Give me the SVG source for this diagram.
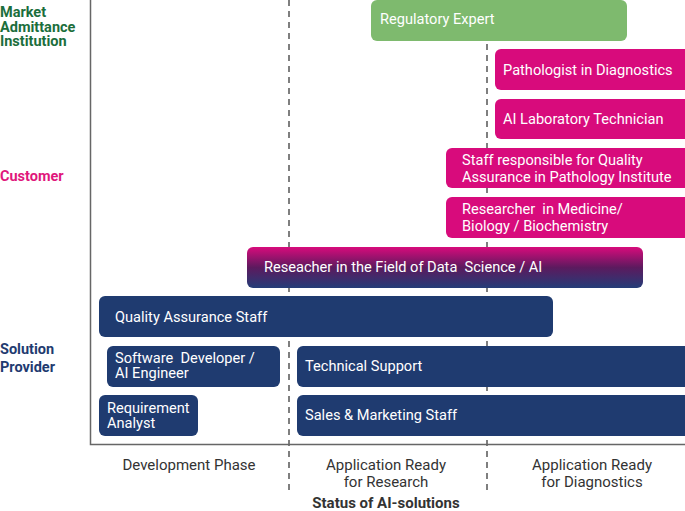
<svg xmlns="http://www.w3.org/2000/svg" width="685" height="511" viewBox="0 0 685 511">
<defs>
<linearGradient id="grad" x1="0" y1="0" x2="0" y2="1">
<stop offset="0" stop-color="#d80b7c"/>
<stop offset="0.5" stop-color="#5c1a5e"/>
<stop offset="1" stop-color="#243d78"/>
</linearGradient>
<style>
.t{font-family:Roboto,"Liberation Sans",sans-serif;font-size:14.6px;fill:#fff}
.g{fill:#7eba6e}
.p{fill:#d80b7c}
.n{fill:#1f3b70}
.lab{font-family:Roboto,"Liberation Sans",sans-serif;font-size:14.5px;font-weight:bold}
.ax{font-family:Roboto,"Liberation Sans",sans-serif;font-size:15px;fill:#333;text-anchor:middle}
.dash{stroke:#555;stroke-width:1.5;stroke-dasharray:6 5;fill:none}
</style>
</defs>
<rect width="685" height="511" fill="#fff"/>
<g id="axes">
<line class="dash" x1="289" y1="0" x2="289" y2="492"/>
<line class="dash" x1="487" y1="0" x2="487" y2="492"/>
<polyline points="90.5,0 90.5,444.5 685,444.5" fill="none" stroke="#666" stroke-width="1.5"/>
</g>
<g id="lab-market" class="lab" fill="#1b6e3c">
<text x="0" y="17">Market</text>
<text x="0" y="31.5">Admittance</text>
<text x="0" y="46">Institution</text>
</g>
<g id="lab-customer" class="lab" fill="#e0177c"><text x="0" y="181">Customer</text></g>
<g id="lab-solution" class="lab" fill="#1f3b70">
<text x="0" y="354">Solution</text>
<text x="0" y="372">Provider</text>
</g>
<g id="regulatory"><rect class="g" x="371" y="0" width="256" height="41" rx="6"/><text class="t" x="380" y="24">Regulatory Expert</text></g>
<g id="pathologist"><rect class="p" x="495" y="49" width="195" height="41" rx="6"/><text class="t" x="503" y="75">Pathologist in Diagnostics</text></g>
<g id="ailab"><rect class="p" x="495" y="99" width="195" height="40" rx="6"/><text class="t" x="503" y="124">AI Laboratory Technician</text></g>
<g id="staffqa"><rect class="p" x="446" y="148" width="244" height="40" rx="6"/><text class="t" x="462" y="165">Staff responsible for Quality</text><text class="t" x="462" y="182">Assurance in Pathology Institute</text></g>
<g id="researcher-med"><rect class="p" x="446" y="197" width="244" height="41" rx="6"/><text class="t" x="462" y="214" xml:space="preserve">Researcher  in Medicine/</text><text class="t" x="462" y="231">Biology / Biochemistry</text></g>
<g id="researcher-ds"><rect fill="url(#grad)" x="247" y="247" width="396" height="41" rx="6"/><text class="t" x="264" y="272" xml:space="preserve">Reseacher in the Field of Data  Science / AI</text></g>
<g id="qa-staff"><rect class="n" x="99" y="296" width="454" height="41" rx="6"/><text class="t" x="115" y="322">Quality Assurance Staff</text></g>
<g id="software"><rect class="n" x="107" y="346" width="173" height="41" rx="6"/><text class="t" x="115" y="363" xml:space="preserve">Software  Developer /</text><text class="t" x="115" y="378">AI Engineer</text></g>
<g id="tech-support"><rect class="n" x="297" y="346" width="393" height="41" rx="6"/><text class="t" x="305" y="371">Technical Support</text></g>
<g id="requirement"><rect class="n" x="99" y="395" width="99" height="41" rx="6"/><text class="t" x="107" y="413">Requirement</text><text class="t" x="107" y="428">Analyst</text></g>
<g id="sales"><rect class="n" x="297" y="395" width="393" height="41" rx="6"/><text class="t" x="305" y="420">Sales &amp; Marketing Staff</text></g>
<g id="xlabels">
<text class="ax" x="189" y="470">Development Phase</text>
<text class="ax" x="386" y="470">Application Ready</text>
<text class="ax" x="386" y="487">for Research</text>
<text class="ax" x="592" y="470">Application Ready</text>
<text class="ax" x="592" y="487">for Diagnostics</text>
<text class="ax" x="386" y="508" font-weight="bold" font-size="14">Status of AI-solutions</text>
</g>
</svg>
